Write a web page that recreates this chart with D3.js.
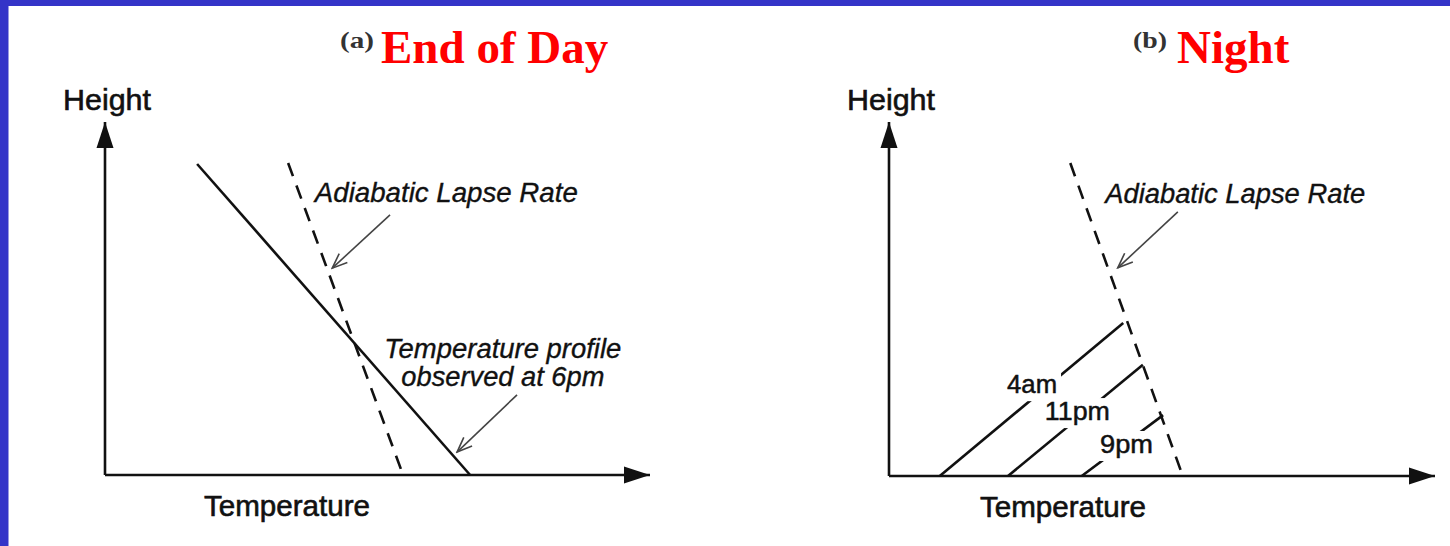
<!DOCTYPE html>
<html>
<head>
<meta charset="utf-8">
<script src="https://cdn.jsdelivr.net/npm/d3@7"></script>
<style>
  html, body { margin: 0; padding: 0; background: #fff; }
  svg { display: block; }
</style>
</head>
<body>
<svg id="chart" width="1450" height="546"></svg>
<script>
// ---------- data (unit space: temperature 0-100, height 0-100) ----------
const panelTags   = ["(a)", "(b)"];
const panelTitles = ["End of Day", "Night"];
const axisNames   = ["Height", "Temperature"];

// panel (a): end of day
const adiabaticA  = [[33.6, 88.4], [54.7, 0]];
const profile6pm  = [[16.9, 88.1], [67.0, 0]];

// panel (b): night
const adiabaticB  = [[33.2, 88.4], [53.8, 0]];
const nightTimes  = ["4am", "11pm", "9pm"];
const nightGround = [9.3, 21.8, 35.3];            // temperature where profile meets the ground
const nightTop    = [[42.9, 43.2], [46.5, 31.4], [50.2, 17.2]];

// annotation texts
const lapseLabel   = "Adiabatic Lapse Rate";
const profileLabel = ["Temperature profile", "observed at 6pm"];

// ---------- layout ----------
const svg = d3.select("#chart");
const ink = "#111";
const sans = "Liberation Sans, Arial, sans-serif";

svg.append("rect").attr("x", 0).attr("y", 0).attr("width", 1450).attr("height", 546).attr("fill", "#fff");
svg.append("rect").attr("x", 0).attr("y", 0).attr("width", 1450).attr("height", 6).attr("fill", "#3434c8");
svg.append("rect").attr("x", 0).attr("y", 0).attr("width", 8.5).attr("height", 546).attr("fill", "#3434c8");

const defs = svg.append("defs");
defs.append("marker").attr("id", "axisHead")
  .attr("markerUnits", "userSpaceOnUse").attr("markerWidth", 30).attr("markerHeight", 20)
  .attr("viewBox", "-27 -10 30 20").attr("refX", 0).attr("refY", 0).attr("orient", "auto")
  .append("path").attr("d", "M-26,-8.5L0,0L-26,8.5Z").attr("fill", ink);
defs.append("marker").attr("id", "openHead")
  .attr("markerUnits", "userSpaceOnUse").attr("markerWidth", 20).attr("markerHeight", 16)
  .attr("viewBox", "-18 -8 20 16").attr("refX", 0).attr("refY", 0).attr("orient", "auto")
  .append("path").attr("d", "M-15,-6L0,0L-15,6").attr("fill", "none")
  .attr("stroke", "#444").attr("stroke-width", 1.6);

const panels = [
  { x: d3.scaleLinear().domain([0, 100]).range([105, 650]),
    y: d3.scaleLinear().domain([0, 100]).range([475, 122]),
    tagX: 340, titleX: 381 },
  { x: d3.scaleLinear().domain([0, 100]).range([889, 1435]),
    y: d3.scaleLinear().domain([0, 100]).range([476, 122]),
    tagX: 1133, titleX: 1177 }
];

const line = (p) => d3.line().x(d => p.x(d[0])).y(d => p.y(d[1]));

function label(g, x, y, txt, size, len, opts = {}) {
  const t = g.append("text").attr("x", x).attr("y", y)
    .attr("font-family", opts.family || sans)
    .attr("font-size", size).attr("fill", opts.fill || ink)
    .attr("textLength", len).attr("lengthAdjust", "spacingAndGlyphs")
    .text(txt);
  if (opts.italic) t.attr("font-style", "italic");
  if (opts.bold) t.attr("font-weight", "bold");
  if (opts.anchor) t.attr("text-anchor", opts.anchor);
  if (opts.heavy) t.attr("stroke", opts.fill || ink).attr("stroke-width", opts.heavy);
  return t;
}

panels.forEach((p, i) => {
  const g = svg.append("g");

  // titles
  label(g, p.tagX, 48, panelTags[i], 23, 34,
    { family: "Liberation Serif, serif", bold: true, fill: "#333" });
  g.append("text").attr("x", p.titleX).attr("y", 63)
    .attr("font-family", "Liberation Serif, serif").attr("font-weight", "bold")
    .attr("font-size", 47).attr("fill", "#ff0000")
    .text(panelTitles[i]);

  // axes
  g.append("path").attr("d", line(p)([[0, 0], [0, 100]]))
    .attr("stroke", ink).attr("stroke-width", 2.6).attr("fill", "none")
    .attr("marker-end", "url(#axisHead)");
  g.append("path").attr("d", line(p)([[0, 0], [100, 0]]))
    .attr("stroke", ink).attr("stroke-width", 2.6).attr("fill", "none")
    .attr("marker-end", "url(#axisHead)");

  label(g, p.x(0) - 42, p.y(100) - 12, axisNames[0], 30, 88, { heavy: 0.6 });
  label(g, p.x(0) + (i === 0 ? 99 : 91), p.y(0) + 41, axisNames[1], 29, 166, { heavy: 0.6 });
  p.g = g;
});

// ---------- panel (a) ----------
{
  const p = panels[0], g = p.g;
  g.append("path").attr("d", line(p)(adiabaticA))
    .attr("stroke", ink).attr("stroke-width", 2.6).attr("fill", "none")
    .attr("stroke-dasharray", "14,10");
  g.append("path").attr("d", line(p)(profile6pm))
    .attr("stroke", ink).attr("stroke-width", 2.6).attr("fill", "none");

  label(g, p.x(38.5), p.y(77.3), lapseLabel, 27, 263, { italic: true, heavy: 0.35 });
  g.append("path").attr("d", line(p)([[52.3, 73.7], [41.7, 58.6]]))
    .attr("stroke", "#444").attr("stroke-width", 1.6).attr("fill", "none")
    .attr("marker-end", "url(#openHead)");

  profileLabel.forEach((t, k) => {
    label(g, p.x(73.0), p.y(k === 0 ? 33.1 : 25.2), t, 27, k === 0 ? 237 : 203,
      { italic: true, anchor: "middle", heavy: 0.35 });
  });
  g.append("path").attr("d", line(p)([[75.6, 22.7], [64.6, 6.5]]))
    .attr("stroke", "#444").attr("stroke-width", 1.6).attr("fill", "none")
    .attr("marker-end", "url(#openHead)");
}

// ---------- panel (b) ----------
{
  const p = panels[1], g = p.g;
  g.append("path").attr("d", line(p)(adiabaticB))
    .attr("stroke", ink).attr("stroke-width", 2.6).attr("fill", "none")
    .attr("stroke-dasharray", "14,10");

  label(g, p.x(39.6), p.y(77.1), lapseLabel, 27, 260, { italic: true, heavy: 0.35 });
  g.append("path").attr("d", line(p)([[52.9, 74.6], [41.9, 58.8]]))
    .attr("stroke", "#444").attr("stroke-width", 1.6).attr("fill", "none")
    .attr("marker-end", "url(#openHead)");

  const labelAt = [[26.2, 23.4], [34.5, 15.8], [43.5, 6.5]];
  const lengths = [50, 65, 53];
  nightTimes.forEach((t, k) => {
    g.append("path").attr("d", line(p)([[nightGround[k], 0], nightTop[k]]))
      .attr("stroke", ink).attr("stroke-width", 2.6).attr("fill", "none");
  });
  nightTimes.forEach((t, k) => {
    const txt = label(g, p.x(labelAt[k][0]), p.y(labelAt[k][1]), t, 26, lengths[k],
      { anchor: "middle", heavy: 0.5 });
    const bb = txt.node().getBBox();
    g.insert("rect", () => txt.node())
      .attr("x", bb.x - 4).attr("y", bb.y + 2).attr("width", bb.width + 8).attr("height", bb.height)
      .attr("fill", "#fff");
  });
}
</script>
</body>
</html>
